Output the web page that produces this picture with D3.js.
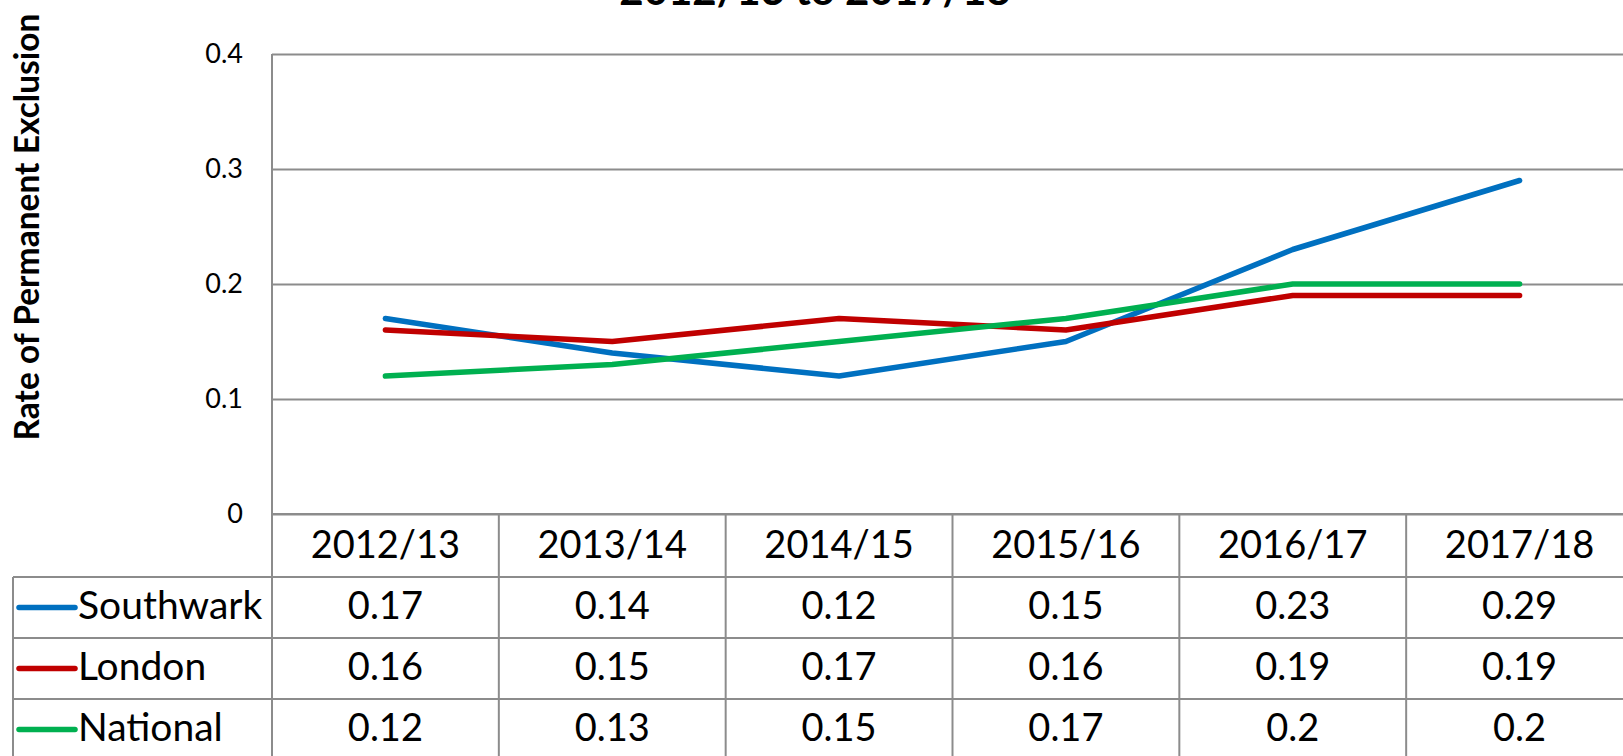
<!DOCTYPE html>
<html>
<head>
<meta charset="utf-8">
<script src="https://cdn.jsdelivr.net/npm/d3@7"></script>
<style>
  body { margin: 0; background: #fff; }
  svg { display: block; font-family: Lato, "Open Sans", sans-serif; }
</style>
</head>
<body>
<div id="chart"></div>
<script>
// Data (values also printed in the data table)
var years = ["2012/13", "2013/14", "2014/15", "2015/16", "2016/17", "2017/18"];
var seriesNames = ["Southwark", "London", "National"];
var southwark = [0.17, 0.14, 0.12, 0.15, 0.23, 0.29];
var london = [0.16, 0.15, 0.17, 0.16, 0.19, 0.19];
var national = [0.12, 0.13, 0.15, 0.17, 0.2, 0.2];
var yTicks = [0, 0.1, 0.2, 0.3, 0.4];

var colors = {Southwark: "#0070c0", London: "#c00000", National: "#00b050"};
var series = [
  {name: "Southwark", values: southwark},
  {name: "London", values: london},
  {name: "National", values: national}
];

var width = 1623, height = 756;
// plot area
var margin = {top: 54, left: 272, right: -10, bottom: 242};
var plotRight = width - margin.right;
var plotBottom = height - margin.bottom;

var svg = d3.select("#chart").append("svg")
  .attr("width", width)
  .attr("height", height);

// Scales
var x = d3.scaleBand().domain(years).range([margin.left, plotRight]);
var y = d3.scaleLinear().domain([0, 0.4]).range([plotBottom, margin.top]);

var gridColor = "#8c8c8c";

// Gridlines
svg.append("g")
  .attr("transform", "translate(" + margin.left + ",0)")
  .call(d3.axisLeft(y).tickValues(yTicks).tickSize(-(plotRight - margin.left)).tickFormat(""))
  .call(function(g){ g.select(".domain").remove(); })
  .selectAll("line")
  .attr("stroke", gridColor)
  .attr("stroke-width", 2);

// left border of the plot area
svg.append("line")
  .attr("x1", margin.left).attr("x2", margin.left)
  .attr("y1", margin.top).attr("y2", height)
  .attr("stroke", gridColor).attr("stroke-width", 2);

// Y axis labels
var yAxis = svg.append("g")
  .attr("transform", "translate(" + margin.left + ",0)")
  .call(d3.axisLeft(y).tickValues(yTicks).tickSize(0).tickPadding(29).tickFormat(d3.format("")));
yAxis.select(".domain").remove();
yAxis.selectAll("text")
  .attr("font-family", "Lato, sans-serif")
  .attr("font-size", 27)
  .attr("fill", "#000");

// Y axis title
svg.append("text")
  .attr("transform", "translate(39," + 227 + ")rotate(-90)")
  .attr("text-anchor", "middle")
  .attr("font-weight", "bold")
  .attr("font-size", 33.5)
  .text("Rate of Permanent Exclusion");

// Chart title (cut at the top of the picture)
svg.append("text")
  .attr("x", 815)
  .attr("y", 5)
  .attr("text-anchor", "middle")
  .attr("font-weight", "bold")
  .attr("font-size", 42)
  .text("2012/13 to 2017/18");

// Lines
var line = d3.line()
  .x(function(d, i){ return x(years[i]) + x.bandwidth() / 2; })
  .y(function(d){ return y(d); });

svg.selectAll(".series")
  .data(series)
  .enter()
  .append("path")
  .attr("class", "series")
  .attr("d", function(d){ return line(d.values); })
  .attr("fill", "none")
  .attr("stroke", function(d){ return colors[d.name]; })
  .attr("stroke-width", 5.5)
  .attr("stroke-linecap", "round")
  .attr("stroke-linejoin", "round");

// Data table under the plot
var headerH = 63, rowH = 61;
var legendLeft = 13;
var rowY = function(i){ return plotBottom + headerH + i * rowH; };
var table = svg.append("g").attr("class", "table");

// horizontal lines
table.append("line")
  .attr("x1", margin.left).attr("x2", plotRight)
  .attr("y1", plotBottom).attr("y2", plotBottom);
series.forEach(function(s, i){
  table.append("line")
    .attr("x1", legendLeft).attr("x2", plotRight)
    .attr("y1", rowY(i)).attr("y2", rowY(i));
});
// vertical lines
years.forEach(function(yr){
  table.append("line")
    .attr("x1", x(yr) + x.bandwidth()).attr("x2", x(yr) + x.bandwidth())
    .attr("y1", plotBottom).attr("y2", height);
});
table.append("line")
  .attr("x1", legendLeft).attr("x2", legendLeft)
  .attr("y1", rowY(0)).attr("y2", height);
table.selectAll("line")
  .attr("stroke", gridColor)
  .attr("stroke-width", 2);

// header labels
table.selectAll(".head")
  .data(years)
  .enter()
  .append("text")
  .attr("class", "head")
  .attr("x", function(d){ return x(d) + x.bandwidth() / 2; })
  .attr("y", plotBottom + 44)
  .attr("text-anchor", "middle")
  .attr("font-size", 38)
  .text(function(d){ return d; });

// rows
var rows = table.selectAll(".row")
  .data(series)
  .enter()
  .append("g")
  .attr("class", "row")
  .attr("transform", function(d, i){ return "translate(0," + rowY(i) + ")"; });

rows.append("line")
  .attr("x1", 19).attr("x2", 75)
  .attr("y1", rowH / 2).attr("y2", rowH / 2)
  .attr("stroke", function(d){ return colors[d.name]; })
  .attr("stroke-width", 5.5)
  .attr("stroke-linecap", "round");

rows.append("text")
  .attr("x", 78)
  .attr("y", 42)
  .attr("font-size", 39)
  .text(function(d){ return d.name; });

rows.selectAll(".val")
  .data(function(d){ return d.values; })
  .enter()
  .append("text")
  .attr("class", "val")
  .attr("x", function(d, i){ return x(years[i]) + x.bandwidth() / 2; })
  .attr("y", 42)
  .attr("text-anchor", "middle")
  .attr("font-size", 38)
  .text(function(d){ return d; });
</script>
</body>
</html>
